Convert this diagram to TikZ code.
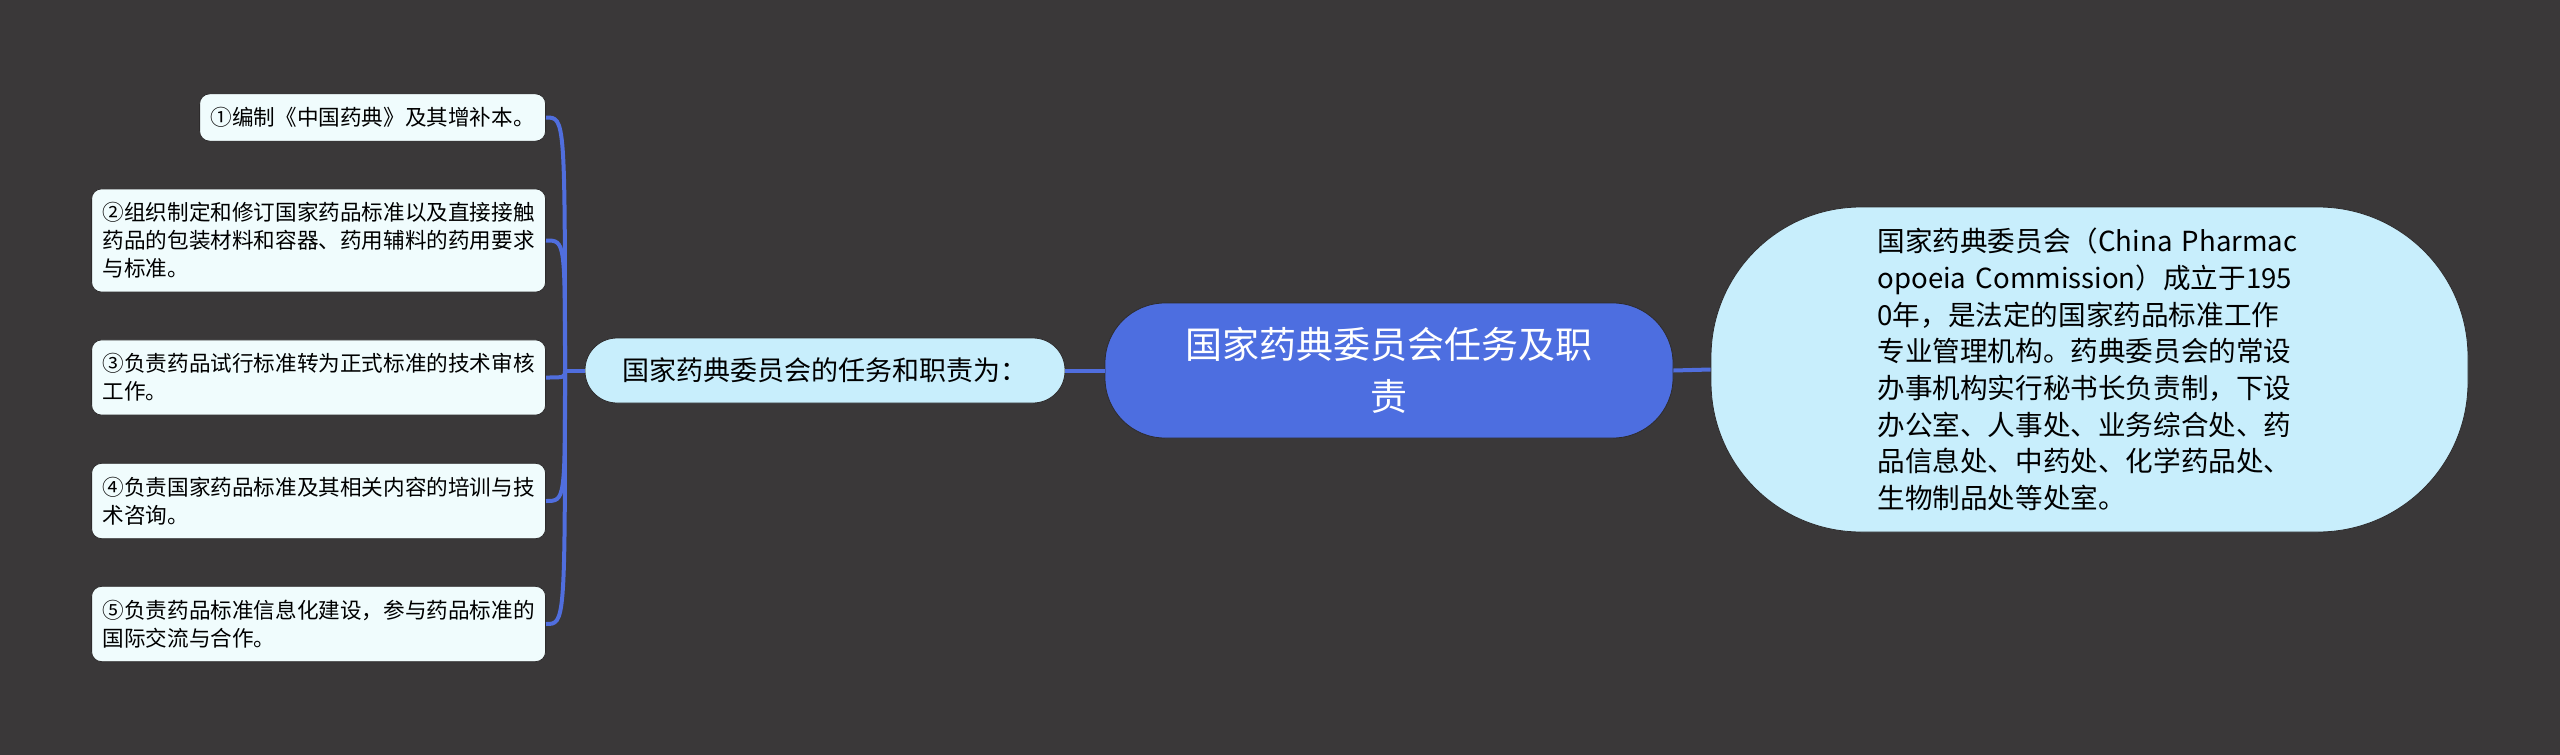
\documentclass[tikz,border=0pt]{standalone}
\usepackage{fontspec}
\setmainfont{Noto Sans CJK SC}

\begin{document}
\begin{tikzpicture}[x=0.5pt,y=0.5pt,yscale=-1,xscale=1,
  link/.style={draw={rgb, 255:red, 80; green, 110; blue, 222 }, line width=2pt},
  itembox/.style={draw={rgb, 255:red, 45; green, 43; blue, 44 }, line width=0.4pt, fill={rgb, 255:red, 240; green, 252; blue, 253 }, rounded corners=5pt, anchor=east, inner xsep=5.5pt, inner ysep=6.8pt, font=\fontsize{10.8}{14}\selectfont, align=left},
  sidebox/.style={draw={rgb, 255:red, 45; green, 43; blue, 44 }, line width=0.4pt, fill={rgb, 255:red, 200; green, 238; blue, 252 }, inner sep=0pt},
  rootbox/.style={draw={rgb, 255:red, 45; green, 43; blue, 44 }, line width=0.4pt, fill={rgb, 255:red, 77; green, 110; blue, 224 }, text=white, inner sep=0pt}
]
%uncomment if require: \path (0,755); %diagram is 2560 wide and 755 high

%Shape: Background
\fill [fill={rgb, 255:red, 58; green, 56; blue, 57 }] (0,0) rectangle (2560,755) ;

% Root Node
\node [rootbox, minimum width=284pt, minimum height=67.5pt, rounded corners=30pt, font=\fontsize{18.5}{26}\selectfont, align=center] (root) at (1389,370.5) {国家药典委员会任务及职\\责};
% Text Node
\node [sidebox, minimum width=240pt, minimum height=32.5pt, rounded corners=16pt, font=\fontsize{13.5}{16}\selectfont] (duty) at (825,370.5) {国家药典委员会的任务和职责为：};
% Text Node
\node [sidebox, minimum width=378.5pt, minimum height=162.5pt, rounded corners=75pt, text width=212pt, align=left, font=\fontsize{13.8}{18.35}\selectfont] (intro) at (2089.5,369.5) {国家药典委员会（China Pharmac\\opoeia Commission）成立于195\\0年，是法定的国家药品标准工作\\专业管理机构。药典委员会的常设\\办事机构实行秘书长负责制，下设\\办公室、人事处、业务综合处、药\\品信息处、中药处、化学药品处、\\生物制品处等处室。};

% Text Node
\node [itembox] (task1) at (546,117.5) {①编制《中国药典》及其增补本。};
% Text Node
\node [itembox, text width=216pt] (task2) at (546,240.5) {②组织制定和修订国家药品标准以及直接接触\\药品的包装材料和容器、药用辅料的药用要求\\与标准。};
% Text Node
\node [itembox, text width=216pt] (task3) at (546,377.5) {③负责药品试行标准转为正式标准的技术审核\\工作。};
% Text Node
\node [itembox, text width=216pt] (task4) at (546,501) {④负责国家药品标准及其相关内容的培训与技\\术咨询。};
% Text Node
\node [itembox, text width=216pt] (task5) at (546,624) {⑤负责药品标准信息化建设，参与药品标准的\\国际交流与合作。};

\coordinate (hub) at (565,370.5);

%Straight Lines
\draw [link] (duty.east) -- (root.west) ;
\draw [link] (root.east) -- (intro.west) ;
\draw [link] (duty.west) -- (hub) ;
%Curve Lines
\foreach \t in {task1,task2,task3,task4,task5}
  \draw [link] (hub) .. controls (hub |- \t.east) .. (\t.east) ;

\end{tikzpicture}
\end{document}
